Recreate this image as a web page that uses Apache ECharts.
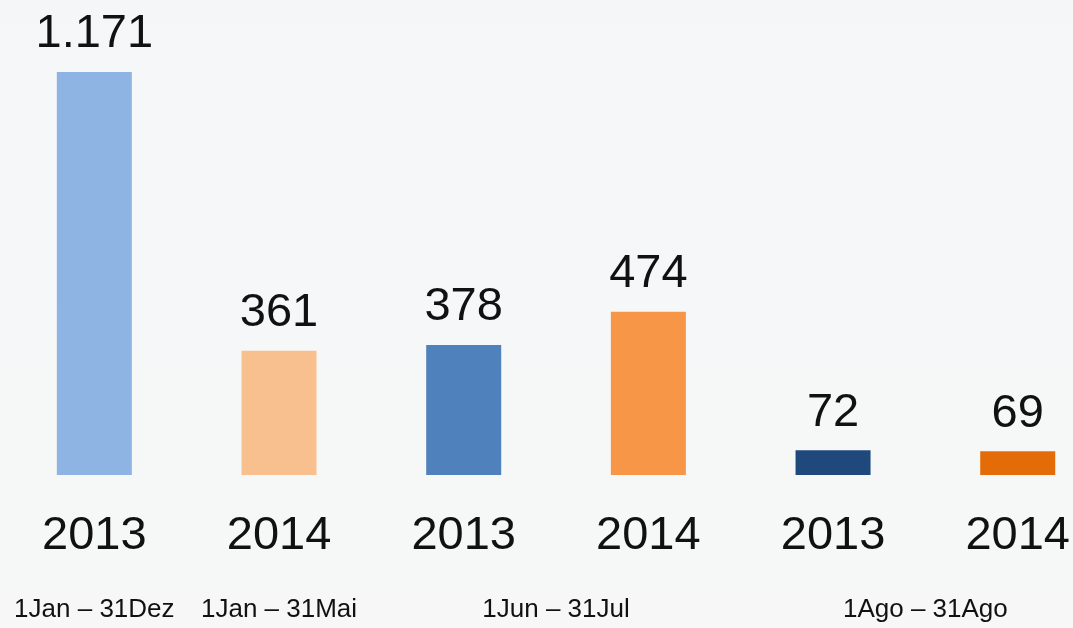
<!DOCTYPE html>
<html>
<head>
<meta charset="utf-8">
<script src="https://cdn.jsdelivr.net/npm/echarts@6/dist/echarts.min.js"></script>
<style>
  html, body { margin: 0; padding: 0; }
  #chart { width: 1073px; height: 628px; }
</style>
</head>
<body>
<div id="chart"></div>
<script>
// --- Data ---
const years = ['2013', '2014', '2013', '2014', '2013', '2014']
const values = [1171, 361, 378, 474, 72, 69]
const valueLabels = ['1.171', '361', '378', '474', '72', '69']
const barColors = ['#8EB4E3', '#F9C08F', '#4F81BD', '#F79646', '#1F497D', '#E36C09']
// each period spans a range of the bars above (first and last index)
const periodLabels = ['1Jan – 31Dez', '1Jan – 31Mai', '1Jun – 31Jul', '1Ago – 31Ago']
const periodSpans = [[0, 0], [1, 1], [2, 3], [4, 5]]

const slots = years.map((y, i) => i)
const periodCenters = periodSpans.map(s => (s[0] + s[1]) / 2)
const font = "'Liberation Sans', Arial, sans-serif"

const chart = echarts.init(document.getElementById('chart'))

// the last slot runs off the right edge, like the original slide
const xMin = -0.5
const xMax = 5.283

const option = {
  backgroundColor: new echarts.graphic.LinearGradient(0, 0, 0, 1, [
    { offset: 0, color: '#f4f6f8' },
    { offset: 0.5, color: '#f6f7f8' },
    { offset: 1, color: '#f7f7f7' }
  ]),
  animation: false,
  grid: { left: 2, right: 0, top: 27.5, bottom: 153 },
  xAxis: [
    {
      type: 'value',
      min: xMin,
      max: xMax,
      splitLine: { show: false },
      axisLine: { show: false },
      axisTick: { show: false },
      axisLabel: {
        customValues: slots,
        color: '#111',
        fontSize: 47,
        fontFamily: font,
        margin: 38,
        formatter: (v) => years[v]
      }
    },
    {
      type: 'value',
      min: xMin,
      max: xMax,
      position: 'bottom',
      splitLine: { show: false },
      axisLine: { show: false },
      axisTick: { show: false },
      axisLabel: {
        customValues: periodCenters,
        color: '#111',
        fontSize: 26,
        fontFamily: font,
        margin: 122,
        formatter: (v) => periodLabels[periodCenters.indexOf(v)]
      }
    }
  ],
  yAxis: { type: 'value', min: 0, max: 1300, show: false },
  series: [{
    type: 'bar',
    barWidth: 75,
    data: values.map((v, i) => ({ value: [slots[i], v], itemStyle: { color: barColors[i] } })),
    label: {
      show: true,
      position: 'top',
      distance: 14,
      color: '#111',
      fontSize: 47,
      fontFamily: font,
      formatter: (p) => valueLabels[p.dataIndex]
    }
  }]
}

chart.setOption(option)
</script>
</body>
</html>
